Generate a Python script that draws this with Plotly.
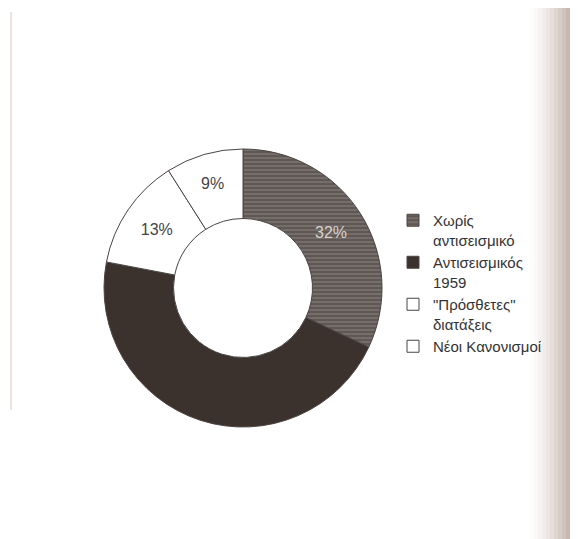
import plotly.graph_objects as go

labels = ["Χωρίς<br>αντισεισμικό", "Αντισεισμικός<br>1959", "\"Πρόσθετες\"<br>διατάξεις", "Νέοι Κανονισμοί"]
values = [32, 46, 13, 9]
slice_text = ["32%", "", "13%", "9%"]

colors = ["#5f5753", "#3b322e", "#ffffff", "#ffffff"]
patterns = ["-", "", "", ""]
text_colors = ["#d8d2cc", "#3b322e", "#444444", "#444444"]

OFF = 8  # page body margin
W, H = 578 - OFF, 539 - OFF
cx, cy, r = 243 - OFF, 288 - OFF, 139

fig = go.Figure(go.Pie(
    labels=labels,
    values=values,
    text=slice_text,
    texttemplate="%{text}",
    textposition="inside",
    insidetextorientation="horizontal",
    sort=False,
    direction="clockwise",
    rotation=0,
    hole=0.5,
    marker=dict(
        colors=colors,
        line=dict(color="#4a4442", width=1),
        pattern=dict(shape=patterns, fgcolor="#8c8480", bgcolor=colors, size=4, solidity=0.25),
    ),
    textfont=dict(family="Liberation Sans, Arial", size=16, color=text_colors),
    domain=dict(x=[(cx - r) / W, (cx + r) / W], y=[(H - cy - r) / H, (H - cy + r) / H]),
    hoverinfo="skip",
))

shapes = []
# scan shadow on right edge
n = 12
for i in range(n):
    x0 = 530 - OFF + i * 4
    t = (i + 1) / n
    shapes.append(dict(type="rect", xref="paper", yref="paper",
                       x0=x0 / W, x1=min(x0 + 4, W) / W, y0=0, y1=1,
                       fillcolor="rgba(175,150,140,%.3f)" % (0.9 * t ** 1.5),
                       line=dict(width=0), layer="below"))
shapes.append(dict(type="line", xref="paper", yref="paper", x0=(11 - OFF) / W, x1=(11 - OFF) / W,
                   y0=(H - (410 - OFF)) / H, y1=(H - (12 - OFF)) / H,
                   line=dict(color="rgba(200,160,150,0.6)", width=1)))

fig.update_layout(
    width=W, height=H,
    margin=dict(l=0, r=0, t=0, b=0),
    paper_bgcolor="white",
    plot_bgcolor="white",
    font=dict(family="Liberation Sans, Arial", size=15, color="#333333"),
    legend=dict(
        x=(393 - OFF) / W, y=(H - (204 - OFF)) / H, xanchor="left", yanchor="top",
        valign="top", itemwidth=30,
        font=dict(size=15, color="#333333"),
        bgcolor="rgba(0,0,0,0)",
    ),
    shapes=shapes,
    showlegend=True,
)

fig.write_html("out.html")
